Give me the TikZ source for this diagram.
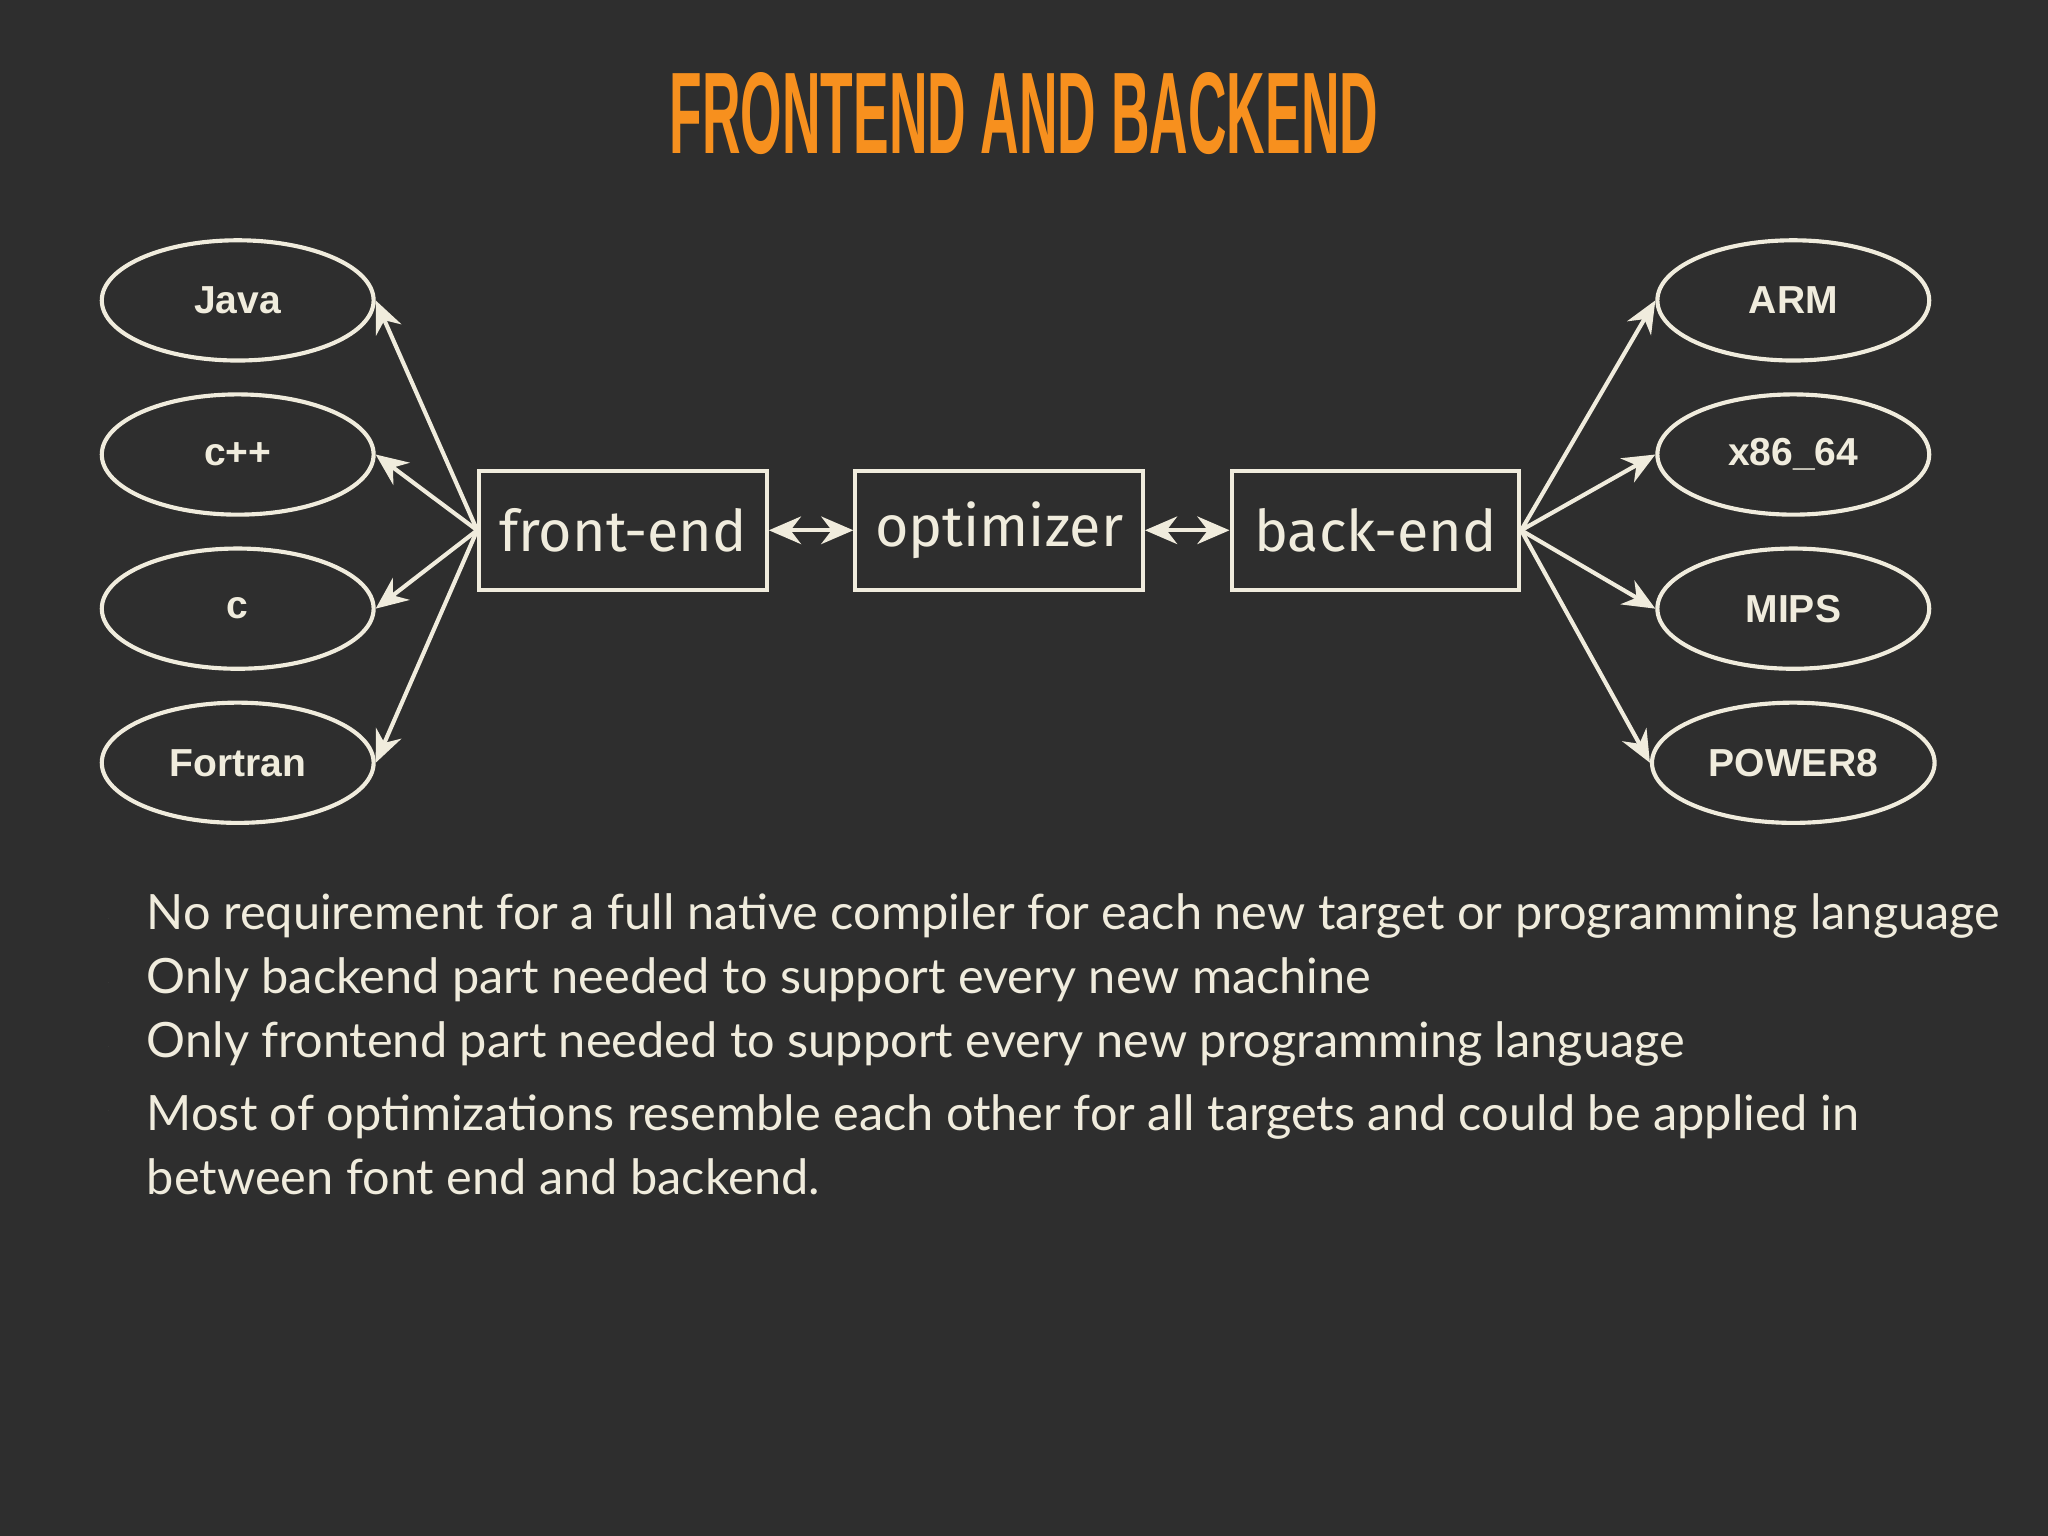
\documentclass[tikz,border=0pt]{standalone}
\usepackage{fontspec}
\setmainfont{Lato}
\newfontfamily\ellfont{Liberation Sans}
\newfontfamily\boxfont{Fira Sans}
\newfontfamily\titlefont{Liberation Sans}
\usetikzlibrary{shapes.geometric,arrows.meta}
\definecolor{bg}{HTML}{2E2E2E}
\definecolor{cream}{HTML}{F0ECDD}
\definecolor{orng}{HTML}{F7901E}
\tikzset{
 ell/.style={draw=cream,line width=0.9pt,ellipse,minimum width=2.08cm,minimum height=0.92cm,text=cream,font=\ellfont\bfseries\fontsize{8.5}{10}\selectfont},
 bx/.style={draw=cream,line width=0.9pt,minimum width=2.2cm,minimum height=0.91cm,text=cream,font=\boxfont\fontsize{12.5}{14}\selectfont},
 arr/.style={draw=cream,line width=0.9pt,-{Stealth[length=7pt,width=6pt]}},
 darr/.style={draw=cream,line width=0.9pt,{Stealth[length=7pt,width=6pt]}-{Stealth[length=7pt,width=6pt]}},
 bul/.style={text=cream,anchor=west,font=\fontsize{10.6}{13.8}\selectfont,align=left}
}
\begin{document}
\begin{tikzpicture}[x=0.01cm,y=-0.01cm]
\fill[bg] (0,0) rectangle (1568,1176);
\useasboundingbox (0,0) rectangle (1568,1176);
\node (title) at (784,87) {\resizebox{5.42cm}{0.62cm}{\color{orng}\titlefont\bfseries FRONTEND AND BACKEND}};
\node[ell] (java) at (182,230) {Java};
\node[ell] (cpp) at (182,348) {c++};
\node[ell] (c) at (182,466) {c};
\node[ell] (fort) at (182,584) {Fortran};
\node[ell] (arm) at (1373,230) {ARM};
\node[ell] (x86) at (1373,348) {x86\_64};
\node[ell] (mips) at (1373,466) {MIPS};
\node[ell] (pow) at (1373,584) {POWER8};
\node[bx] (fe) at (477,406) {front-end};
\node[bx] (opt) at (765,406) {optimizer};
\node[bx] (be) at (1053,406) {back-end};
\foreach \n in {java,cpp,c,fort} \draw[arr] (fe.west) -- (\n.east);
\foreach \n in {arm,x86,mips,pow} \draw[arr] (be.east) -- (\n.west);
\draw[darr] (fe) -- (opt);
\draw[darr] (opt) -- (be);
\foreach \y/\t [count=\i] in {701/No requirement for a full native compiler for each new target or programming language,750/Only backend part needed to support every new machine,799/Only frontend part needed to support every new programming language}{
 \fill[cream] (83,\y+2) circle (0.045);
 \node[bul] (b\i) at (100,\y) {\t};
}
\fill[cream] (83,850) circle (0.045);
\node[bul,anchor=north west] (b4) at (100,826) {Most of optimizations resemble each other for all targets and could be applied in\\between font end and backend.};
\end{tikzpicture}
\end{document}
